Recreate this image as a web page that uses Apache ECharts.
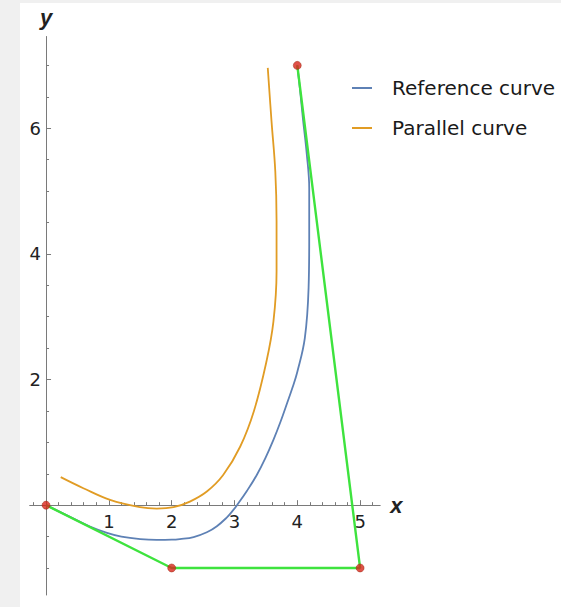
<!DOCTYPE html>
<html>
<head>
<meta charset="utf-8">
<script src="https://cdn.jsdelivr.net/npm/echarts@6/dist/echarts.min.js"></script>
<style>
  html, body { margin: 0; padding: 0; background: #f0f0f0; }
  #chart { width: 561px; height: 607px; }
</style>
</head>
<body>
<div id="chart"></div>
<script>
// Cubic control polygon
const ctrlX = [0, 2, 5, 4];
const ctrlY = [0, -1, -1, 7];

// Reference curve samples
const refX = [0, 0.35, 0.7, 0.97, 1.2, 1.5, 1.76, 2.0, 2.13, 2.35, 2.56, 2.72, 2.88, 2.96, 3.04, 3.2, 3.355, 3.49, 3.62, 3.73, 3.84, 3.92, 4.0, 4.12, 4.18, 4.19, 4.19, 4.15, 4.09, 4.045, 4];
const refY = [0, -0.17, -0.34, -0.44, -0.5, -0.54, -0.553, -0.55, -0.54, -0.508, -0.432, -0.335, -0.194, -0.104, 0, 0.23, 0.48, 0.745, 1.04, 1.32, 1.63, 1.86, 2.12, 2.66, 3.46, 4.25, 5.04, 5.6, 6.15, 6.6, 7];

// Parallel (offset) curve samples
const parX = [0.234, 0.594, 1.02, 1.497, 1.763, 2.03, 2.29, 2.56, 2.82, 3.09, 3.31, 3.51, 3.62, 3.67, 3.67, 3.65, 3.59, 3.53];
const parY = [0.446, 0.27, 0.084, -0.032, -0.054, -0.032, 0.057, 0.217, 0.48, 0.93, 1.5, 2.29, 2.92, 3.72, 4.52, 5.31, 6.11, 6.96];

// Axis ticks
const xMajorTicks = [1, 2, 3, 4, 5];
const xMinorTicks = [-0.2, 0.2, 0.4, 0.6, 0.8, 1.2, 1.4, 1.6, 1.8, 2.2, 2.4, 2.6, 2.8, 3.2, 3.4, 3.6, 3.8, 4.2, 4.4, 4.6, 4.8, 5.2];
const yMajorTicks = [2, 4, 6];
const yMinorTicks = [-1, -0.5, 0.5, 1, 1.5, 2.5, 3, 3.5, 4.5, 5, 5.5, 6.5, 7];

const seriesNames = ['Reference curve', 'Parallel curve'];

const zip = (xs, ys) => xs.map((x, i) => [x, ys[i]]);

const AXIS_GRAY = '#7a7a7a';
const LABEL_COLOR = '#222';
const X_RANGE = [-0.26, 5.32];
const Y_RANGE = [-1.43, 7.46];

const CHART_W = 561, CHART_H = 607;
const GRID = { left: 29.7, right: 180.8, top: 36.5, bottom: 12 };
const gridW = CHART_W - GRID.left - GRID.right;
const gridH = CHART_H - GRID.top - GRID.bottom;
// distance from the grid's bottom / left edge to the zero lines (axes cross at the origin)
const xZeroShift = gridH * (0 - Y_RANGE[0]) / (Y_RANGE[1] - Y_RANGE[0]);
const yZeroShift = gridW * (0 - X_RANGE[0]) / (X_RANGE[1] - X_RANGE[0]);

const nameStyle = {
  fontFamily: 'Liberation Sans',
  fontSize: 22,
  fontStyle: 'italic',
  fontWeight: 'bold',
  color: LABEL_COLOR
};
const tickLabelStyle = {
  fontFamily: 'DejaVu Sans',
  fontSize: 18,
  color: LABEL_COLOR
};

const chart = echarts.init(document.getElementById('chart'), null, { renderer: 'svg' });

chart.setOption({
  animation: false,
  backgroundColor: '#f0f0f0',
  graphic: [{
    type: 'rect', z: -100, silent: true,
    shape: { x: 20, y: 3, width: 541, height: 604 },
    style: { fill: '#ffffff' }
  }],
  grid: Object.assign({ outerBoundsMode: 'none' }, GRID),
  xAxis: [
    { // axis line, major ticks, labels, name
      type: 'value', position: 'bottom', offset: -xZeroShift,
      min: X_RANGE[0], max: X_RANGE[1],
      name: 'x', nameLocation: 'end', nameGap: 10, nameTextStyle: nameStyle,
      axisLine: { show: true, onZero: false, lineStyle: { color: AXIS_GRAY, width: 1 } },
      axisTick: { show: true, inside: true, length: 5, customValues: xMajorTicks,
        lineStyle: { color: AXIS_GRAY, width: 1 } },
      axisLabel: Object.assign({ show: true, customValues: xMajorTicks, margin: 7 }, tickLabelStyle),
      splitLine: { show: false }
    },
    { // minor ticks
      type: 'value', position: 'bottom', offset: -xZeroShift,
      min: X_RANGE[0], max: X_RANGE[1],
      axisLine: { show: false, onZero: false },
      axisTick: { show: true, inside: true, length: 3, customValues: xMinorTicks,
        lineStyle: { color: AXIS_GRAY, width: 1 } },
      axisLabel: { show: false },
      splitLine: { show: false }
    }
  ],
  yAxis: [
    { // axis line, major ticks, name (tick labels drawn by the custom series below)
      type: 'value', position: 'left', offset: -yZeroShift,
      min: Y_RANGE[0], max: Y_RANGE[1],
      name: 'y', nameLocation: 'end', nameGap: 8, nameTextStyle: nameStyle,
      axisLine: { show: true, onZero: false, lineStyle: { color: AXIS_GRAY, width: 1 } },
      axisTick: { show: true, inside: true, length: 5, customValues: yMajorTicks,
        lineStyle: { color: AXIS_GRAY, width: 1 } },
      axisLabel: { show: false },
      splitLine: { show: false }
    },
    { // minor ticks
      type: 'value', position: 'left', offset: -yZeroShift,
      min: Y_RANGE[0], max: Y_RANGE[1],
      axisLine: { show: false, onZero: false },
      axisTick: { show: true, inside: true, length: 3, customValues: yMinorTicks,
        lineStyle: { color: AXIS_GRAY, width: 1 } },
      axisLabel: { show: false },
      splitLine: { show: false }
    }
  ],
  legend: {
    data: seriesNames,
    orient: 'vertical',
    left: 352, top: 78,
    padding: 0,
    itemGap: 20,
    itemWidth: 20, itemHeight: 2,
    icon: 'rect',
    textStyle: {
      fontFamily: 'DejaVu Sans', fontSize: 20, color: '#1a1a1a',
      lineHeight: 20, padding: [0, 0, 0, 15]
    }
  },
  series: [
    {
      name: seriesNames[0], type: 'line',
      data: zip(refX, refY),
      smooth: 0.4, showSymbol: false, symbol: 'none',
      lineStyle: { color: '#5e81b5', width: 1.8 },
      itemStyle: { color: '#5e81b5' },
      z: 2
    },
    {
      name: seriesNames[1], type: 'line',
      data: zip(parX, parY),
      smooth: 0.4, showSymbol: false, symbol: 'none',
      lineStyle: { color: '#e19c24', width: 1.8 },
      itemStyle: { color: '#e19c24' },
      z: 2
    },
    {
      name: 'control polygon', type: 'line',
      data: zip(ctrlX, ctrlY),
      showSymbol: false, symbol: 'none',
      lineStyle: { color: '#3ee33e', width: 2.4 },
      z: 3
    },
    {
      name: 'control points', type: 'scatter',
      data: zip(ctrlX, ctrlY),
      symbolSize: 8,
      itemStyle: { color: '#d8261c', borderColor: '#9a2a10', borderWidth: 0.6 },
      z: 4
    },
    { // y tick labels, placed just left of the y axis
      name: 'y tick labels', type: 'custom',
      silent: true, clip: false, z: 5,
      data: yMajorTicks.map(v => [0, v]),
      renderItem: function (params, api) {
        const p = api.coord([api.value(0), api.value(1)]);
        return {
          type: 'text',
          x: p[0] - 5,
          y: p[1],
          style: {
            text: String(api.value(1)),
            align: 'right',
            verticalAlign: 'middle',
            fill: LABEL_COLOR,
            font: '18px "DejaVu Sans"'
          }
        };
      }
    }
  ]
});
</script>
</body>
</html>
